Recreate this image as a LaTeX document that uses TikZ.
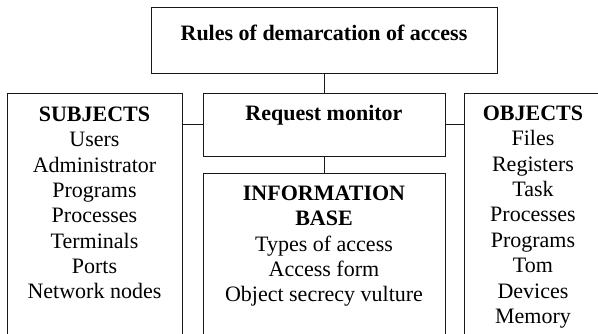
\documentclass[tikz,border=0pt]{standalone}
\usepackage{fontspec}
\setmainfont{Liberation Serif}
\begin{document}
\begin{tikzpicture}[x=1pt,y=-1pt,
  box/.style={draw=black!90, line width=0.9pt, inner sep=0pt, outer sep=0pt, anchor=north west},
  conn/.style={draw=black!90, line width=0.9pt},
  txt/.style={anchor=north, align=center, inner sep=0pt, font=\fontsize{22}{25.4}\selectfont}]
\useasboundingbox (0,0) rectangle (598,334);
\clip (0,0) rectangle (598,334);
% boxes
\node[box, minimum width=346pt, minimum height=66pt] (rules) at (151,7) {};
\node[box, minimum width=175pt, minimum height=260pt] (subj) at (7,93) {};
\node[box, minimum width=242pt, minimum height=63pt] (mon) at (203,93) {};
\node[box, minimum width=140pt, minimum height=260pt] (obj) at (464,93) {};
\node[box, minimum width=242pt, minimum height=180pt] (info) at (203,173) {};
% texts
\node[txt] (rulest) at (324,23) {\rule{0pt}{17pt}\textbf{Rules of demarcation of access}};
\node[txt] (monit) at (324,103) {\rule{0pt}{17pt}\textbf{Request monitor}};
\node[txt] (subjt) at (94.5,104) {\rule{0pt}{17pt}\textbf{SUBJECTS}\\Users\\Administrator\\Programs\\Processes\\Terminals\\Ports\\Network nodes};
\node[txt] (objt) at (533,103) {\rule{0pt}{17pt}\textbf{OBJECTS}\\Files\\Registers\\Task\\Processes\\Programs\\Tom\\Devices\\Memory};
\node[txt] (infot) at (324,183) {\rule{0pt}{17pt}\textbf{INFORMATION}\\\textbf{BASE}\\Types of access\\Access form\\Object secrecy vulture};
% connectors
\draw[conn] (rules.south) -- (mon.north);
\draw[conn] (subj.east |- mon.west) -- (mon.west);
\draw[conn] (mon.east) -- (obj.west |- mon.east);
\draw[conn] (mon.south) -- (info.north);
\end{tikzpicture}
\end{document}
